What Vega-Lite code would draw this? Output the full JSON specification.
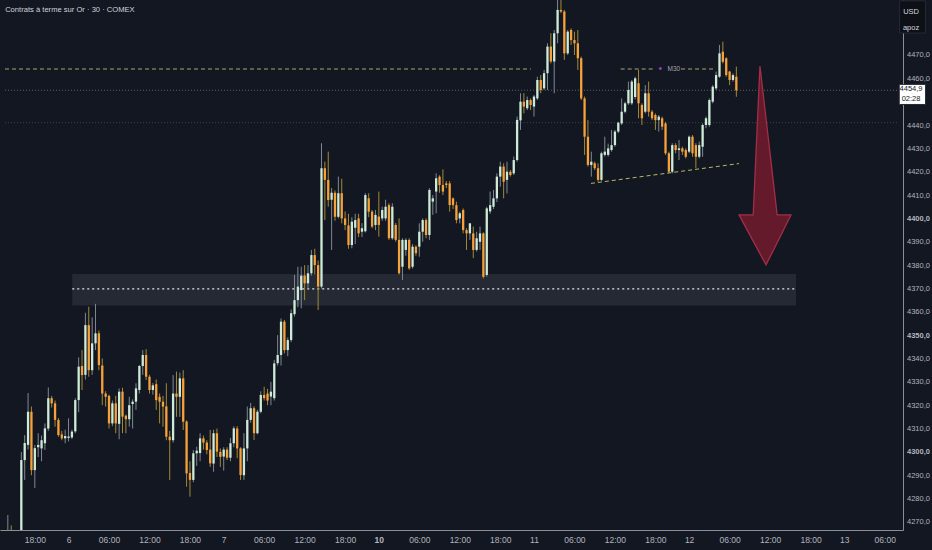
{
  "$schema": "https://vega.github.io/schema/vega-lite/v6.json",
  "width": 932,
  "height": 550,
  "autosize": {"type": "fit", "contains": "padding"},
  "padding": 0,
  "background": "#131722",
  "config": {
    "view": {"stroke": null},
    "font": "Liberation Sans"
  },
  "datasets": {
    "candles": [
      {"i":-18,"o":4262,"h":4273,"l":4258,"c":4264},
      {"i":-17,"o":4264,"h":4268.5,"l":4259,"c":4261},
      {"i":-16,"o":4261,"h":4265,"l":4255,"c":4258},
      {"i":-15,"o":4258,"h":4264,"l":4254,"c":4262},
      {"i":-14,"o":4262,"h":4300,"l":4258,"c":4296.5},
      {"i":-13,"o":4296.5,"h":4307.2,"l":4288,"c":4303.8},
      {"i":-12,"o":4303,"h":4325.2,"l":4301,"c":4317.2},
      {"i":-11,"o":4317.2,"h":4319.4,"l":4290,"c":4292.2},
      {"i":-10,"o":4292.2,"h":4303,"l":4284.5,"c":4301.6},
      {"i":-9,"o":4302,"h":4308,"l":4297.8,"c":4303},
      {"i":-8,"o":4301.5,"h":4307,"l":4296,"c":4305},
      {"i":-7,"o":4303.7,"h":4312.2,"l":4300.8,"c":4310.1},
      {"i":-6,"o":4310,"h":4327.6,"l":4309,"c":4323},
      {"i":-5,"o":4323,"h":4324,"l":4319,"c":4320.8},
      {"i":-4,"o":4320.8,"h":4322,"l":4310.8,"c":4313.7},
      {"i":-3,"o":4313.7,"h":4314.5,"l":4306.5,"c":4307.2},
      {"i":-2,"o":4307.5,"h":4309,"l":4305,"c":4305.8},
      {"i":-1,"o":4305.8,"h":4309.5,"l":4303.7,"c":4306.8},
      {"i":0,"o":4306,"h":4314.4,"l":4304.5,"c":4306.6},
      {"i":1,"o":4306.2,"h":4309.5,"l":4305.5,"c":4308.7},
      {"i":2,"o":4308.8,"h":4323,"l":4308,"c":4322.2},
      {"i":3,"o":4322.2,"h":4340.5,"l":4317,"c":4336.5},
      {"i":4,"o":4336.8,"h":4343.6,"l":4326.5,"c":4332.9},
      {"i":5,"o":4333,"h":4359.6,"l":4331,"c":4354.3},
      {"i":6,"o":4354.3,"h":4362.2,"l":4332.2,"c":4335},
      {"i":7,"o":4335,"h":4357.6,"l":4333,"c":4346.5},
      {"i":8,"o":4346.5,"h":4363.4,"l":4343.6,"c":4350.8},
      {"i":9,"o":4350.8,"h":4352,"l":4335,"c":4337.2},
      {"i":10,"o":4337,"h":4340,"l":4320,"c":4325},
      {"i":11,"o":4325,"h":4326,"l":4319.4,"c":4323.6},
      {"i":12,"o":4324,"h":4324.5,"l":4310,"c":4312.2},
      {"i":13,"o":4312.2,"h":4322,"l":4311,"c":4320.8},
      {"i":14,"o":4320.8,"h":4324,"l":4308,"c":4312.2},
      {"i":15,"o":4312,"h":4327.2,"l":4305.4,"c":4325.8},
      {"i":16,"o":4325.8,"h":4327.5,"l":4308,"c":4315.1},
      {"i":17,"o":4315.5,"h":4316,"l":4308,"c":4314},
      {"i":18,"o":4314,"h":4323.6,"l":4310.8,"c":4320},
      {"i":19,"o":4320.5,"h":4322.5,"l":4310,"c":4321.5},
      {"i":20,"o":4321.5,"h":4329.4,"l":4318,"c":4327.2},
      {"i":21,"o":4326.5,"h":4337.2,"l":4325,"c":4336.8},
      {"i":22,"o":4336.8,"h":4343.6,"l":4333,"c":4341.5},
      {"i":23,"o":4341.5,"h":4344,"l":4330.8,"c":4332.2},
      {"i":24,"o":4332.2,"h":4333,"l":4325,"c":4326.5},
      {"i":25,"o":4326.5,"h":4329.5,"l":4324.5,"c":4328.5},
      {"i":26,"o":4329,"h":4331,"l":4318,"c":4322.2},
      {"i":27,"o":4323.6,"h":4325,"l":4312.2,"c":4321.5},
      {"i":28,"o":4321.5,"h":4324,"l":4310.8,"c":4319.4},
      {"i":29,"o":4319.5,"h":4329.4,"l":4305,"c":4306.5},
      {"i":30,"o":4306.5,"h":4309,"l":4288,"c":4305},
      {"i":31,"o":4305,"h":4332.9,"l":4304,"c":4325},
      {"i":32,"o":4325,"h":4334.4,"l":4315,"c":4323.6},
      {"i":33,"o":4323.6,"h":4334,"l":4315,"c":4331.5},
      {"i":34,"o":4331.5,"h":4335,"l":4309.4,"c":4312.9},
      {"i":35,"o":4313,"h":4313.5,"l":4285.1,"c":4290.8},
      {"i":36,"o":4291,"h":4296,"l":4280.8,"c":4288},
      {"i":37,"o":4288,"h":4300.8,"l":4287,"c":4299.4},
      {"i":38,"o":4299.4,"h":4302.2,"l":4294,"c":4300.5},
      {"i":39,"o":4299.5,"h":4308,"l":4296,"c":4305.8},
      {"i":40,"o":4305.8,"h":4307,"l":4301,"c":4304},
      {"i":41,"o":4304,"h":4305,"l":4299,"c":4300.8},
      {"i":42,"o":4301,"h":4309.4,"l":4293.6,"c":4295.1},
      {"i":43,"o":4295,"h":4309.5,"l":4291.5,"c":4308},
      {"i":44,"o":4308,"h":4310,"l":4297.8,"c":4300.1},
      {"i":45,"o":4300,"h":4301.5,"l":4293.6,"c":4297.9},
      {"i":46,"o":4298,"h":4302,"l":4292,"c":4301},
      {"i":47,"o":4301,"h":4302,"l":4296.5,"c":4297.5},
      {"i":48,"o":4297.5,"h":4306,"l":4296,"c":4303.7},
      {"i":49,"o":4303.7,"h":4311,"l":4302,"c":4310.1},
      {"i":50,"o":4310,"h":4311,"l":4297.3,"c":4301.5},
      {"i":51,"o":4301.5,"h":4302,"l":4288,"c":4290.1},
      {"i":52,"o":4290,"h":4308,"l":4288,"c":4301.5},
      {"i":53,"o":4301.5,"h":4319.4,"l":4296,"c":4313.7},
      {"i":54,"o":4313.7,"h":4321,"l":4312.5,"c":4318.7},
      {"i":55,"o":4318.7,"h":4319.5,"l":4305.1,"c":4308},
      {"i":56,"o":4308,"h":4318,"l":4307.5,"c":4317.2},
      {"i":57,"o":4317.2,"h":4326,"l":4316.5,"c":4324.4},
      {"i":58,"o":4324.4,"h":4327.9,"l":4322,"c":4323},
      {"i":59,"o":4325,"h":4327,"l":4320,"c":4322},
      {"i":60,"o":4323.7,"h":4330,"l":4320,"c":4325.8},
      {"i":61,"o":4323,"h":4339.4,"l":4322,"c":4337.9},
      {"i":62,"o":4338,"h":4350,"l":4337,"c":4341.5},
      {"i":63,"o":4341.5,"h":4357.2,"l":4337,"c":4355.8},
      {"i":64,"o":4355.8,"h":4356.5,"l":4342.2,"c":4343.6},
      {"i":65,"o":4343.6,"h":4349,"l":4341,"c":4347.9},
      {"i":66,"o":4347.9,"h":4361,"l":4347,"c":4359.4},
      {"i":67,"o":4359,"h":4375.8,"l":4358,"c":4365},
      {"i":68,"o":4365,"h":4379.3,"l":4362,"c":4370.8},
      {"i":69,"o":4369.3,"h":4379.3,"l":4361.5,"c":4375.5},
      {"i":70,"o":4375.5,"h":4380,"l":4365,"c":4372.2},
      {"i":71,"o":4372.2,"h":4380,"l":4370,"c":4376.5},
      {"i":72,"o":4376.5,"h":4386.5,"l":4375.5,"c":4384.3},
      {"i":73,"o":4384.3,"h":4387,"l":4376,"c":4380},
      {"i":74,"o":4380,"h":4382,"l":4360.8,"c":4370.8},
      {"i":75,"o":4370.8,"h":4432.2,"l":4370,"c":4421.5},
      {"i":76,"o":4421.5,"h":4424.3,"l":4399.3,"c":4416.5},
      {"i":77,"o":4416.5,"h":4428.6,"l":4405,"c":4407.9},
      {"i":78,"o":4408,"h":4413,"l":4386.5,"c":4411},
      {"i":79,"o":4411,"h":4412,"l":4399,"c":4400.7},
      {"i":80,"o":4400.7,"h":4417.9,"l":4400,"c":4410.8},
      {"i":81,"o":4410.8,"h":4417,"l":4397.9,"c":4400},
      {"i":82,"o":4400,"h":4403,"l":4395,"c":4397.2},
      {"i":83,"o":4397,"h":4402,"l":4387,"c":4388.6},
      {"i":84,"o":4388.6,"h":4400.5,"l":4387.2,"c":4398.6},
      {"i":85,"o":4396,"h":4402,"l":4389,"c":4399.3},
      {"i":86,"o":4400,"h":4402,"l":4392,"c":4393.6},
      {"i":87,"o":4394.3,"h":4398,"l":4392,"c":4395.8},
      {"i":88,"o":4394.5,"h":4410.8,"l":4394,"c":4410},
      {"i":89,"o":4408.6,"h":4410.8,"l":4400.5,"c":4402.9},
      {"i":90,"o":4402.9,"h":4403.6,"l":4395.8,"c":4396.5},
      {"i":91,"o":4397.2,"h":4403.6,"l":4395,"c":4401.5},
      {"i":92,"o":4400.8,"h":4411.5,"l":4392.2,"c":4397.2},
      {"i":93,"o":4400,"h":4405,"l":4399,"c":4403.6},
      {"i":94,"o":4400,"h":4408,"l":4399,"c":4405},
      {"i":95,"o":4405.7,"h":4406.5,"l":4390.8,"c":4391.5},
      {"i":96,"o":4391.5,"h":4406.5,"l":4390.8,"c":4405},
      {"i":97,"o":4397.2,"h":4398,"l":4390,"c":4390.8},
      {"i":98,"o":4390.8,"h":4400,"l":4376,"c":4376.5},
      {"i":99,"o":4379.3,"h":4391.5,"l":4373.6,"c":4390.8},
      {"i":100,"o":4386.5,"h":4391.5,"l":4384,"c":4390.8},
      {"i":101,"o":4390.8,"h":4391.5,"l":4378,"c":4378.6},
      {"i":102,"o":4379.3,"h":4389,"l":4378.5,"c":4387.9},
      {"i":103,"o":4387.9,"h":4388.5,"l":4384,"c":4385.1},
      {"i":104,"o":4387.9,"h":4397.9,"l":4383.6,"c":4394.3},
      {"i":105,"o":4394.3,"h":4400,"l":4390,"c":4399.3},
      {"i":106,"o":4399.3,"h":4400,"l":4391.5,"c":4392.9},
      {"i":107,"o":4392.9,"h":4412.9,"l":4390.8,"c":4412.2},
      {"i":108,"o":4407.2,"h":4410,"l":4401.5,"c":4408.6},
      {"i":109,"o":4411.5,"h":4419.3,"l":4402.2,"c":4417.2},
      {"i":110,"o":4417.9,"h":4418.5,"l":4411,"c":4414.3},
      {"i":111,"o":4414.3,"h":4421,"l":4410,"c":4411.5},
      {"i":112,"o":4415,"h":4416,"l":4413,"c":4414.3},
      {"i":113,"o":4415,"h":4416,"l":4402.9,"c":4405.7},
      {"i":114,"o":4408.6,"h":4409,"l":4404,"c":4405.7},
      {"i":115,"o":4405.7,"h":4407.2,"l":4397.9,"c":4399.3},
      {"i":116,"o":4400,"h":4402.9,"l":4397.9,"c":4402.2},
      {"i":117,"o":4403.6,"h":4404.3,"l":4393.6,"c":4395},
      {"i":118,"o":4395,"h":4395.8,"l":4386.5,"c":4393.6},
      {"i":119,"o":4393.6,"h":4397.9,"l":4390.8,"c":4397.9},
      {"i":120,"o":4393.6,"h":4396.5,"l":4383,"c":4386.5},
      {"i":121,"o":4386.5,"h":4394.3,"l":4385.8,"c":4391.5},
      {"i":122,"o":4390,"h":4396.5,"l":4386.5,"c":4393.6},
      {"i":123,"o":4393.6,"h":4394,"l":4374.3,"c":4375},
      {"i":124,"o":4375.8,"h":4405,"l":4375,"c":4404.3},
      {"i":125,"o":4403,"h":4411.5,"l":4402,"c":4405.7},
      {"i":126,"o":4405,"h":4412.2,"l":4404,"c":4408.6},
      {"i":127,"o":4408.6,"h":4419.3,"l":4407,"c":4417.9},
      {"i":128,"o":4417.9,"h":4424.3,"l":4413.6,"c":4422.2},
      {"i":129,"o":4422.2,"h":4423.6,"l":4408.6,"c":4415.7},
      {"i":130,"o":4416.5,"h":4424.3,"l":4410.7,"c":4420},
      {"i":131,"o":4420,"h":4420.7,"l":4417.9,"c":4418.6},
      {"i":132,"o":4419.3,"h":4426.5,"l":4418.6,"c":4425},
      {"i":133,"o":4425,"h":4443.6,"l":4424.3,"c":4442.2},
      {"i":134,"o":4442,"h":4453.6,"l":4437.9,"c":4450},
      {"i":135,"o":4450,"h":4453.6,"l":4445,"c":4447.9},
      {"i":136,"o":4447.2,"h":4452.2,"l":4446.4,"c":4450.7},
      {"i":137,"o":4450.7,"h":4451.4,"l":4446.4,"c":4448.6},
      {"i":138,"o":4447.9,"h":4452.9,"l":4443.6,"c":4452.2},
      {"i":139,"o":4451.4,"h":4460.7,"l":4450.7,"c":4459.3},
      {"i":140,"o":4459.3,"h":4461.4,"l":4453.6,"c":4455},
      {"i":141,"o":4455.7,"h":4463.6,"l":4455,"c":4462.2},
      {"i":142,"o":4462.2,"h":4475,"l":4455,"c":4473.6},
      {"i":143,"o":4473.6,"h":4479.3,"l":4466.4,"c":4467.2},
      {"i":144,"o":4467.2,"h":4480.7,"l":4453.6,"c":4479.3},
      {"i":145,"o":4479.3,"h":4495,"l":4475,"c":4489.3},
      {"i":146,"o":4489.3,"h":4495,"l":4487.9,"c":4488.6},
      {"i":147,"o":4488.6,"h":4489.3,"l":4467.9,"c":4470.7},
      {"i":148,"o":4470.7,"h":4480.7,"l":4470,"c":4480},
      {"i":149,"o":4480.7,"h":4481.4,"l":4474.3,"c":4476.4},
      {"i":150,"o":4476.4,"h":4480,"l":4470,"c":4475},
      {"i":151,"o":4475,"h":4480.7,"l":4463.6,"c":4468.6},
      {"i":152,"o":4468.6,"h":4469.3,"l":4450.7,"c":4451.4},
      {"i":153,"o":4451.4,"h":4452.2,"l":4427.2,"c":4435},
      {"i":154,"o":4435,"h":4442.2,"l":4422.2,"c":4422.9},
      {"i":155,"o":4422.9,"h":4428.6,"l":4417.9,"c":4424.3},
      {"i":156,"o":4423.6,"h":4424.3,"l":4420.7,"c":4421.5},
      {"i":157,"o":4421.5,"h":4423.6,"l":4415.7,"c":4416.5},
      {"i":158,"o":4416.5,"h":4428.6,"l":4416,"c":4427.9},
      {"i":159,"o":4427.2,"h":4435,"l":4426.5,"c":4428.6},
      {"i":160,"o":4427.2,"h":4432,"l":4426.5,"c":4430},
      {"i":161,"o":4429.3,"h":4437.9,"l":4428.6,"c":4431.4},
      {"i":162,"o":4431.4,"h":4437.9,"l":4430.7,"c":4437.2},
      {"i":163,"o":4437.2,"h":4441.4,"l":4436.5,"c":4441},
      {"i":164,"o":4440.7,"h":4451.4,"l":4440,"c":4445.7},
      {"i":165,"o":4445.7,"h":4450,"l":4445,"c":4449.3},
      {"i":166,"o":4449.3,"h":4458.6,"l":4448.6,"c":4455},
      {"i":167,"o":4449.3,"h":4459.3,"l":4448.6,"c":4458.6},
      {"i":168,"o":4452,"h":4460.7,"l":4451,"c":4460},
      {"i":169,"o":4457.9,"h":4463.6,"l":4442.9,"c":4449.3},
      {"i":170,"o":4448.6,"h":4449.3,"l":4440,"c":4442.9},
      {"i":171,"o":4445.7,"h":4457.1,"l":4445,"c":4453.6},
      {"i":172,"o":4453.6,"h":4458.6,"l":4443.6,"c":4445.7},
      {"i":173,"o":4445.7,"h":4446.4,"l":4442.1,"c":4442.9},
      {"i":174,"o":4444.3,"h":4445,"l":4437.9,"c":4442.1},
      {"i":175,"o":4442.1,"h":4444.3,"l":4437.2,"c":4443.6},
      {"i":176,"o":4442.9,"h":4443.6,"l":4437.9,"c":4439.3},
      {"i":177,"o":4440.7,"h":4441.4,"l":4427.2,"c":4427.9},
      {"i":178,"o":4427.9,"h":4428.6,"l":4419.3,"c":4420},
      {"i":179,"o":4420,"h":4432.2,"l":4419.3,"c":4431.4},
      {"i":180,"o":4431.4,"h":4432.2,"l":4427.9,"c":4429.3},
      {"i":181,"o":4429.3,"h":4433.6,"l":4425,"c":4430},
      {"i":182,"o":4430,"h":4430.7,"l":4427.2,"c":4428.6},
      {"i":183,"o":4429.3,"h":4430,"l":4425.7,"c":4426.4},
      {"i":184,"o":4428.6,"h":4435.5,"l":4427.9,"c":4435},
      {"i":185,"o":4435,"h":4435.7,"l":4426.4,"c":4427.9},
      {"i":186,"o":4431.4,"h":4432.2,"l":4421.5,"c":4426.4},
      {"i":187,"o":4426.4,"h":4432.9,"l":4425.7,"c":4431.4},
      {"i":188,"o":4430.7,"h":4440.7,"l":4426.4,"c":4440},
      {"i":189,"o":4440,"h":4443.6,"l":4438.6,"c":4442.9},
      {"i":190,"o":4440,"h":4451.4,"l":4439.3,"c":4450.7},
      {"i":191,"o":4450,"h":4457.1,"l":4449.3,"c":4456.4},
      {"i":192,"o":4455.7,"h":4462.9,"l":4455,"c":4461.4},
      {"i":193,"o":4460.7,"h":4474.3,"l":4460.2,"c":4470.7},
      {"i":194,"o":4471.4,"h":4475.7,"l":4466.4,"c":4467.1},
      {"i":195,"o":4468.6,"h":4469,"l":4460.7,"c":4461.4},
      {"i":196,"o":4462.9,"h":4463.2,"l":4457.1,"c":4459.3},
      {"i":197,"o":4459.3,"h":4462.1,"l":4458.6,"c":4461.4},
      {"i":198,"o":4460.7,"h":4465,"l":4452.1,"c":4454.9}
    ]
  },
  "layer": [
    {
      "data": {"values": [{"x1": 1.1, "x2": 215.7, "p1": 4376.2, "p2": 4362.7}]},
      "mark": {"type": "rect", "fill": "#2a2e39", "opacity": 0.8},
      "encoding": {
        "x": {"field": "x1", "type": "quantitative", "scale": {"domain": [-18.84, 245.93], "nice": false, "zero": false},
          "axis": {"orient": "bottom", "title": null, "grid": false, "ticks": false, "domain": true, "domainColor": "#8a8e99", "values": [-10,0,12,24,36,46,58,70,82,92,104,116,128,138,150,162,174,184,196,208,220,230,242], "labelExpr": "((datum.value % 46) + 46) % 46 == 0 ? ['6','7','10','11','12','13'][floor(datum.value / 46)] : ((datum.value % 46) + 46) % 46 == 12 ? '06:00' : ((datum.value % 46) + 46) % 46 == 24 ? '12:00' : '18:00'", "labelColor": "#b2b5be", "labelFontSize": 8.5, "labelFont": "Liberation Sans", "labelPadding": 5, "labelFontWeight": {"condition": {"test": "datum.value == 92", "value": "bold"}, "value": "normal"}, "labelFlush": false, "labelOverlap": false, "minExtent": 20, "maxExtent": 20}},
        "x2": {"field": "x2"},
        "y": {"field": "p1", "type": "quantitative", "scale": {"domain": [4266.55, 4493.55], "nice": false, "zero": false},
          "axis": {"orient": "right", "title": null, "grid": false, "ticks": false, "domain": true, "domainColor": "#8a8e99", "values": [4270,4280,4290,4300,4310,4320,4330,4340,4350,4360,4370,4380,4390,4400,4410,4420,4430,4440,4460,4470], "labelExpr": "replace(format(datum.value, '.1f'), '.', ',')", "labelColor": "#b2b5be", "labelFontSize": 7.5, "labelFont": "Liberation Sans", "labelPadding": 3.5, "labelFontWeight": {"condition": {"test": "datum.value % 50 == 0", "value": "bold"}, "value": "normal"}, "labelFlush": false, "labelOverlap": false, "minExtent": 28.5, "maxExtent": 28.5}},
        "y2": {"field": "p2"}
      }
    },
    {
      "data": {"values": [{"x1": -18.84, "x2": 245.93, "p": 4454.9}]},
      "mark": {"type": "rule", "stroke": "#5d6170", "strokeWidth": 1, "strokeDash": [1, 2]},
      "encoding": {
        "x": {"field": "x1", "type": "quantitative", "scale": {"domain": [-18.84, 245.93], "nice": false, "zero": false},
          "axis": {"orient": "bottom", "title": null, "grid": false, "ticks": false, "domain": true, "domainColor": "#8a8e99", "values": [-10,0,12,24,36,46,58,70,82,92,104,116,128,138,150,162,174,184,196,208,220,230,242], "labelExpr": "((datum.value % 46) + 46) % 46 == 0 ? ['6','7','10','11','12','13'][floor(datum.value / 46)] : ((datum.value % 46) + 46) % 46 == 12 ? '06:00' : ((datum.value % 46) + 46) % 46 == 24 ? '12:00' : '18:00'", "labelColor": "#b2b5be", "labelFontSize": 8.5, "labelFont": "Liberation Sans", "labelPadding": 5, "labelFontWeight": {"condition": {"test": "datum.value == 92", "value": "bold"}, "value": "normal"}, "labelFlush": false, "labelOverlap": false, "minExtent": 20, "maxExtent": 20}},
        "x2": {"field": "x2"},
        "y": {"field": "p", "type": "quantitative", "scale": {"domain": [4266.55, 4493.55], "nice": false, "zero": false},
          "axis": {"orient": "right", "title": null, "grid": false, "ticks": false, "domain": true, "domainColor": "#8a8e99", "values": [4270,4280,4290,4300,4310,4320,4330,4340,4350,4360,4370,4380,4390,4400,4410,4420,4430,4440,4460,4470], "labelExpr": "replace(format(datum.value, '.1f'), '.', ',')", "labelColor": "#b2b5be", "labelFontSize": 7.5, "labelFont": "Liberation Sans", "labelPadding": 3.5, "labelFontWeight": {"condition": {"test": "datum.value % 50 == 0", "value": "bold"}, "value": "normal"}, "labelFlush": false, "labelOverlap": false, "minExtent": 28.5, "maxExtent": 28.5}}
      }
    },
    {
      "data": {"values": [{"x1": -18.84, "x2": 245.93, "p": 4441.0}]},
      "mark": {"type": "rule", "stroke": "#3b3f4b", "strokeWidth": 1, "strokeDash": [1, 2]},
      "encoding": {
        "x": {"field": "x1", "type": "quantitative", "scale": {"domain": [-18.84, 245.93], "nice": false, "zero": false},
          "axis": {"orient": "bottom", "title": null, "grid": false, "ticks": false, "domain": true, "domainColor": "#8a8e99", "values": [-10,0,12,24,36,46,58,70,82,92,104,116,128,138,150,162,174,184,196,208,220,230,242], "labelExpr": "((datum.value % 46) + 46) % 46 == 0 ? ['6','7','10','11','12','13'][floor(datum.value / 46)] : ((datum.value % 46) + 46) % 46 == 12 ? '06:00' : ((datum.value % 46) + 46) % 46 == 24 ? '12:00' : '18:00'", "labelColor": "#b2b5be", "labelFontSize": 8.5, "labelFont": "Liberation Sans", "labelPadding": 5, "labelFontWeight": {"condition": {"test": "datum.value == 92", "value": "bold"}, "value": "normal"}, "labelFlush": false, "labelOverlap": false, "minExtent": 20, "maxExtent": 20}},
        "x2": {"field": "x2"},
        "y": {"field": "p", "type": "quantitative", "scale": {"domain": [4266.55, 4493.55], "nice": false, "zero": false},
          "axis": {"orient": "right", "title": null, "grid": false, "ticks": false, "domain": true, "domainColor": "#8a8e99", "values": [4270,4280,4290,4300,4310,4320,4330,4340,4350,4360,4370,4380,4390,4400,4410,4420,4430,4440,4460,4470], "labelExpr": "replace(format(datum.value, '.1f'), '.', ',')", "labelColor": "#b2b5be", "labelFontSize": 7.5, "labelFont": "Liberation Sans", "labelPadding": 3.5, "labelFontWeight": {"condition": {"test": "datum.value % 50 == 0", "value": "bold"}, "value": "normal"}, "labelFlush": false, "labelOverlap": false, "minExtent": 28.5, "maxExtent": 28.5}}
      }
    },
    {
      "data": {"values": [{"x1": -18.84, "x2": 137.1, "p": 4464.0}, {"x1": 163.7, "x2": 173.6, "p": 4464.0}, {"x1": 181.6, "x2": 191.3, "p": 4464.0}]},
      "mark": {"type": "rule", "stroke": "#a6a66c", "strokeWidth": 1, "strokeDash": [4, 3]},
      "encoding": {
        "x": {"field": "x1", "type": "quantitative", "scale": {"domain": [-18.84, 245.93], "nice": false, "zero": false},
          "axis": {"orient": "bottom", "title": null, "grid": false, "ticks": false, "domain": true, "domainColor": "#8a8e99", "values": [-10,0,12,24,36,46,58,70,82,92,104,116,128,138,150,162,174,184,196,208,220,230,242], "labelExpr": "((datum.value % 46) + 46) % 46 == 0 ? ['6','7','10','11','12','13'][floor(datum.value / 46)] : ((datum.value % 46) + 46) % 46 == 12 ? '06:00' : ((datum.value % 46) + 46) % 46 == 24 ? '12:00' : '18:00'", "labelColor": "#b2b5be", "labelFontSize": 8.5, "labelFont": "Liberation Sans", "labelPadding": 5, "labelFontWeight": {"condition": {"test": "datum.value == 92", "value": "bold"}, "value": "normal"}, "labelFlush": false, "labelOverlap": false, "minExtent": 20, "maxExtent": 20}},
        "x2": {"field": "x2"},
        "y": {"field": "p", "type": "quantitative", "scale": {"domain": [4266.55, 4493.55], "nice": false, "zero": false},
          "axis": {"orient": "right", "title": null, "grid": false, "ticks": false, "domain": true, "domainColor": "#8a8e99", "values": [4270,4280,4290,4300,4310,4320,4330,4340,4350,4360,4370,4380,4390,4400,4410,4420,4430,4440,4460,4470], "labelExpr": "replace(format(datum.value, '.1f'), '.', ',')", "labelColor": "#b2b5be", "labelFontSize": 7.5, "labelFont": "Liberation Sans", "labelPadding": 3.5, "labelFontWeight": {"condition": {"test": "datum.value % 50 == 0", "value": "bold"}, "value": "normal"}, "labelFlush": false, "labelOverlap": false, "minExtent": 28.5, "maxExtent": 28.5}}
      }
    },
    {
      "data": {"values": [{"x1": 1.1, "x2": 215.7, "p": 4369.8}]},
      "mark": {"type": "rule", "stroke": "#e6e6e6", "strokeWidth": 1.3, "strokeDash": [2, 3]},
      "encoding": {
        "x": {"field": "x1", "type": "quantitative", "scale": {"domain": [-18.84, 245.93], "nice": false, "zero": false},
          "axis": {"orient": "bottom", "title": null, "grid": false, "ticks": false, "domain": true, "domainColor": "#8a8e99", "values": [-10,0,12,24,36,46,58,70,82,92,104,116,128,138,150,162,174,184,196,208,220,230,242], "labelExpr": "((datum.value % 46) + 46) % 46 == 0 ? ['6','7','10','11','12','13'][floor(datum.value / 46)] : ((datum.value % 46) + 46) % 46 == 12 ? '06:00' : ((datum.value % 46) + 46) % 46 == 24 ? '12:00' : '18:00'", "labelColor": "#b2b5be", "labelFontSize": 8.5, "labelFont": "Liberation Sans", "labelPadding": 5, "labelFontWeight": {"condition": {"test": "datum.value == 92", "value": "bold"}, "value": "normal"}, "labelFlush": false, "labelOverlap": false, "minExtent": 20, "maxExtent": 20}},
        "x2": {"field": "x2"},
        "y": {"field": "p", "type": "quantitative", "scale": {"domain": [4266.55, 4493.55], "nice": false, "zero": false},
          "axis": {"orient": "right", "title": null, "grid": false, "ticks": false, "domain": true, "domainColor": "#8a8e99", "values": [4270,4280,4290,4300,4310,4320,4330,4340,4350,4360,4370,4380,4390,4400,4410,4420,4430,4440,4460,4470], "labelExpr": "replace(format(datum.value, '.1f'), '.', ',')", "labelColor": "#b2b5be", "labelFontSize": 7.5, "labelFont": "Liberation Sans", "labelPadding": 3.5, "labelFontWeight": {"condition": {"test": "datum.value % 50 == 0", "value": "bold"}, "value": "normal"}, "labelFlush": false, "labelOverlap": false, "minExtent": 28.5, "maxExtent": 28.5}}
      }
    },
    {
      "data": {"name": "candles"},
      "mark": {"type": "rule", "strokeWidth": 1, "clip": true},
      "encoding": {
        "x": {"field": "i", "type": "quantitative", "scale": {"domain": [-18.84, 245.93], "nice": false, "zero": false},
          "axis": {"orient": "bottom", "title": null, "grid": false, "ticks": false, "domain": true, "domainColor": "#8a8e99", "values": [-10,0,12,24,36,46,58,70,82,92,104,116,128,138,150,162,174,184,196,208,220,230,242], "labelExpr": "((datum.value % 46) + 46) % 46 == 0 ? ['6','7','10','11','12','13'][floor(datum.value / 46)] : ((datum.value % 46) + 46) % 46 == 12 ? '06:00' : ((datum.value % 46) + 46) % 46 == 24 ? '12:00' : '18:00'", "labelColor": "#b2b5be", "labelFontSize": 8.5, "labelFont": "Liberation Sans", "labelPadding": 5, "labelFontWeight": {"condition": {"test": "datum.value == 92", "value": "bold"}, "value": "normal"}, "labelFlush": false, "labelOverlap": false, "minExtent": 20, "maxExtent": 20}},
        "y": {"field": "l", "type": "quantitative", "scale": {"domain": [4266.55, 4493.55], "nice": false, "zero": false},
          "axis": {"orient": "right", "title": null, "grid": false, "ticks": false, "domain": true, "domainColor": "#8a8e99", "values": [4270,4280,4290,4300,4310,4320,4330,4340,4350,4360,4370,4380,4390,4400,4410,4420,4430,4440,4460,4470], "labelExpr": "replace(format(datum.value, '.1f'), '.', ',')", "labelColor": "#b2b5be", "labelFontSize": 7.5, "labelFont": "Liberation Sans", "labelPadding": 3.5, "labelFontWeight": {"condition": {"test": "datum.value % 50 == 0", "value": "bold"}, "value": "normal"}, "labelFlush": false, "labelOverlap": false, "minExtent": 28.5, "maxExtent": 28.5}},
        "y2": {"field": "h"},
        "stroke": {"condition": {"test": "datum.c >= datum.o", "value": "#7f8894"}, "value": "#a38a35"}
      }
    },
    {
      "data": {"name": "candles"},
      "mark": {"type": "bar", "width": 2.3, "clip": true},
      "encoding": {
        "x": {"field": "i", "type": "quantitative", "scale": {"domain": [-18.84, 245.93], "nice": false, "zero": false},
          "axis": {"orient": "bottom", "title": null, "grid": false, "ticks": false, "domain": true, "domainColor": "#8a8e99", "values": [-10,0,12,24,36,46,58,70,82,92,104,116,128,138,150,162,174,184,196,208,220,230,242], "labelExpr": "((datum.value % 46) + 46) % 46 == 0 ? ['6','7','10','11','12','13'][floor(datum.value / 46)] : ((datum.value % 46) + 46) % 46 == 12 ? '06:00' : ((datum.value % 46) + 46) % 46 == 24 ? '12:00' : '18:00'", "labelColor": "#b2b5be", "labelFontSize": 8.5, "labelFont": "Liberation Sans", "labelPadding": 5, "labelFontWeight": {"condition": {"test": "datum.value == 92", "value": "bold"}, "value": "normal"}, "labelFlush": false, "labelOverlap": false, "minExtent": 20, "maxExtent": 20}},
        "y": {"field": "o", "type": "quantitative", "scale": {"domain": [4266.55, 4493.55], "nice": false, "zero": false},
          "axis": {"orient": "right", "title": null, "grid": false, "ticks": false, "domain": true, "domainColor": "#8a8e99", "values": [4270,4280,4290,4300,4310,4320,4330,4340,4350,4360,4370,4380,4390,4400,4410,4420,4430,4440,4460,4470], "labelExpr": "replace(format(datum.value, '.1f'), '.', ',')", "labelColor": "#b2b5be", "labelFontSize": 7.5, "labelFont": "Liberation Sans", "labelPadding": 3.5, "labelFontWeight": {"condition": {"test": "datum.value % 50 == 0", "value": "bold"}, "value": "normal"}, "labelFlush": false, "labelOverlap": false, "minExtent": 28.5, "maxExtent": 28.5}},
        "y2": {"field": "c"},
        "fill": {"condition": {"test": "datum.c >= datum.o", "value": "#cdebd6"}, "value": "#f6a13a"}
      }
    },
    {
      "data": {"values": [{"x1": 154.9, "x2": 198.8, "p1": 4415.0, "p2": 4423.5}]},
      "mark": {"type": "rule", "stroke": "#b9b866", "strokeWidth": 1, "strokeDash": [4, 3]},
      "encoding": {
        "x": {"field": "x1", "type": "quantitative", "scale": {"domain": [-18.84, 245.93], "nice": false, "zero": false},
          "axis": {"orient": "bottom", "title": null, "grid": false, "ticks": false, "domain": true, "domainColor": "#8a8e99", "values": [-10,0,12,24,36,46,58,70,82,92,104,116,128,138,150,162,174,184,196,208,220,230,242], "labelExpr": "((datum.value % 46) + 46) % 46 == 0 ? ['6','7','10','11','12','13'][floor(datum.value / 46)] : ((datum.value % 46) + 46) % 46 == 12 ? '06:00' : ((datum.value % 46) + 46) % 46 == 24 ? '12:00' : '18:00'", "labelColor": "#b2b5be", "labelFontSize": 8.5, "labelFont": "Liberation Sans", "labelPadding": 5, "labelFontWeight": {"condition": {"test": "datum.value == 92", "value": "bold"}, "value": "normal"}, "labelFlush": false, "labelOverlap": false, "minExtent": 20, "maxExtent": 20}},
        "x2": {"field": "x2"},
        "y": {"field": "p1", "type": "quantitative", "scale": {"domain": [4266.55, 4493.55], "nice": false, "zero": false},
          "axis": {"orient": "right", "title": null, "grid": false, "ticks": false, "domain": true, "domainColor": "#8a8e99", "values": [4270,4280,4290,4300,4310,4320,4330,4340,4350,4360,4370,4380,4390,4400,4410,4420,4430,4440,4460,4470], "labelExpr": "replace(format(datum.value, '.1f'), '.', ',')", "labelColor": "#b2b5be", "labelFontSize": 7.5, "labelFont": "Liberation Sans", "labelPadding": 3.5, "labelFontWeight": {"condition": {"test": "datum.value % 50 == 0", "value": "bold"}, "value": "normal"}, "labelFlush": false, "labelOverlap": false, "minExtent": 28.5, "maxExtent": 28.5}},
        "y2": {"field": "p2"}
      }
    },
    {
      "data": {"values": [
        {"x": 198.8, "lo": 4401.5, "hi": 4401.5},
        {"x": 203.0, "lo": 4390.3, "hi": 4401.5},
        {"x": 205.0, "lo": 4384.9, "hi": 4465.3},
        {"x": 206.8, "lo": 4380.1, "hi": 4442.8},
        {"x": 210.1, "lo": 4389.6, "hi": 4401.5},
        {"x": 214.2, "lo": 4401.5, "hi": 4401.5}
      ]},
      "mark": {"type": "area", "orient": "vertical", "fill": "#701b2c", "fillOpacity": 0.88, "stroke": "#a32e48", "strokeWidth": 1.3, "strokeJoin": "miter"},
      "encoding": {
        "x": {"field": "x", "type": "quantitative", "scale": {"domain": [-18.84, 245.93], "nice": false, "zero": false},
          "axis": {"orient": "bottom", "title": null, "grid": false, "ticks": false, "domain": true, "domainColor": "#8a8e99", "values": [-10,0,12,24,36,46,58,70,82,92,104,116,128,138,150,162,174,184,196,208,220,230,242], "labelExpr": "((datum.value % 46) + 46) % 46 == 0 ? ['6','7','10','11','12','13'][floor(datum.value / 46)] : ((datum.value % 46) + 46) % 46 == 12 ? '06:00' : ((datum.value % 46) + 46) % 46 == 24 ? '12:00' : '18:00'", "labelColor": "#b2b5be", "labelFontSize": 8.5, "labelFont": "Liberation Sans", "labelPadding": 5, "labelFontWeight": {"condition": {"test": "datum.value == 92", "value": "bold"}, "value": "normal"}, "labelFlush": false, "labelOverlap": false, "minExtent": 20, "maxExtent": 20}},
        "y": {"field": "lo", "type": "quantitative", "stack": null, "scale": {"domain": [4266.55, 4493.55], "nice": false, "zero": false},
          "axis": {"orient": "right", "title": null, "grid": false, "ticks": false, "domain": true, "domainColor": "#8a8e99", "values": [4270,4280,4290,4300,4310,4320,4330,4340,4350,4360,4370,4380,4390,4400,4410,4420,4430,4440,4460,4470], "labelExpr": "replace(format(datum.value, '.1f'), '.', ',')", "labelColor": "#b2b5be", "labelFontSize": 7.5, "labelFont": "Liberation Sans", "labelPadding": 3.5, "labelFontWeight": {"condition": {"test": "datum.value % 50 == 0", "value": "bold"}, "value": "normal"}, "labelFlush": false, "labelOverlap": false, "minExtent": 28.5, "maxExtent": 28.5}},
        "y2": {"field": "hi"}
      }
    },
    {
      "data": {"values": [
        {"i": -18.8, "p": 4489.3, "t": "Contrats à terme sur Or · 30 · COMEX", "k": "title"},
        {"i": 174.9, "p": 4464.2, "t": "•", "k": "glyph"},
        {"i": 177.6, "p": 4464.0, "t": "M30", "k": "m30"}
      ]},
      "mark": {"type": "text", "align": "left", "baseline": "middle", "font": "Liberation Sans"},
      "encoding": {
        "x": {"field": "i", "type": "quantitative", "scale": {"domain": [-18.84, 245.93], "nice": false, "zero": false},
          "axis": {"orient": "bottom", "title": null, "grid": false, "ticks": false, "domain": true, "domainColor": "#8a8e99", "values": [-10,0,12,24,36,46,58,70,82,92,104,116,128,138,150,162,174,184,196,208,220,230,242], "labelExpr": "((datum.value % 46) + 46) % 46 == 0 ? ['6','7','10','11','12','13'][floor(datum.value / 46)] : ((datum.value % 46) + 46) % 46 == 12 ? '06:00' : ((datum.value % 46) + 46) % 46 == 24 ? '12:00' : '18:00'", "labelColor": "#b2b5be", "labelFontSize": 8.5, "labelFont": "Liberation Sans", "labelPadding": 5, "labelFontWeight": {"condition": {"test": "datum.value == 92", "value": "bold"}, "value": "normal"}, "labelFlush": false, "labelOverlap": false, "minExtent": 20, "maxExtent": 20}},
        "y": {"field": "p", "type": "quantitative", "scale": {"domain": [4266.55, 4493.55], "nice": false, "zero": false},
          "axis": {"orient": "right", "title": null, "grid": false, "ticks": false, "domain": true, "domainColor": "#8a8e99", "values": [4270,4280,4290,4300,4310,4320,4330,4340,4350,4360,4370,4380,4390,4400,4410,4420,4430,4440,4460,4470], "labelExpr": "replace(format(datum.value, '.1f'), '.', ',')", "labelColor": "#b2b5be", "labelFontSize": 7.5, "labelFont": "Liberation Sans", "labelPadding": 3.5, "labelFontWeight": {"condition": {"test": "datum.value % 50 == 0", "value": "bold"}, "value": "normal"}, "labelFlush": false, "labelOverlap": false, "minExtent": 28.5, "maxExtent": 28.5}},
        "text": {"field": "t"},
        "color": {"condition": [{"test": "datum.k == 'glyph'", "value": "#9c3fd0"}, {"test": "datum.k == 'm30'", "value": "#a3a6af"}], "value": "#d1d4dc"},
        "size": {"condition": [{"test": "datum.k == 'glyph'", "value": 10}, {"test": "datum.k == 'm30'", "value": 6.5}], "value": 7.6},
        "fontWeight": {"condition": {"test": "datum.k == 'm30'", "value": "bold"}, "value": "normal"}
      }
    },
    {
      "data": {"values": [
        {"x1": 246.3, "x2": 254.1, "p1": 4457.4, "p2": 4448.8, "k": "price"},
        {"x1": 246.4, "x2": 254.1, "p1": 4493.2, "p2": 4479.4, "k": "usd"}
      ]},
      "mark": {"type": "rect", "stroke": "#262a35", "strokeWidth": 1},
      "encoding": {
        "x": {"field": "x1", "type": "quantitative", "scale": {"domain": [-18.84, 245.93], "nice": false, "zero": false},
          "axis": {"orient": "bottom", "title": null, "grid": false, "ticks": false, "domain": true, "domainColor": "#8a8e99", "values": [-10,0,12,24,36,46,58,70,82,92,104,116,128,138,150,162,174,184,196,208,220,230,242], "labelExpr": "((datum.value % 46) + 46) % 46 == 0 ? ['6','7','10','11','12','13'][floor(datum.value / 46)] : ((datum.value % 46) + 46) % 46 == 12 ? '06:00' : ((datum.value % 46) + 46) % 46 == 24 ? '12:00' : '18:00'", "labelColor": "#b2b5be", "labelFontSize": 8.5, "labelFont": "Liberation Sans", "labelPadding": 5, "labelFontWeight": {"condition": {"test": "datum.value == 92", "value": "bold"}, "value": "normal"}, "labelFlush": false, "labelOverlap": false, "minExtent": 20, "maxExtent": 20}},
        "x2": {"field": "x2"},
        "y": {"field": "p1", "type": "quantitative", "scale": {"domain": [4266.55, 4493.55], "nice": false, "zero": false},
          "axis": {"orient": "right", "title": null, "grid": false, "ticks": false, "domain": true, "domainColor": "#8a8e99", "values": [4270,4280,4290,4300,4310,4320,4330,4340,4350,4360,4370,4380,4390,4400,4410,4420,4430,4440,4460,4470], "labelExpr": "replace(format(datum.value, '.1f'), '.', ',')", "labelColor": "#b2b5be", "labelFontSize": 7.5, "labelFont": "Liberation Sans", "labelPadding": 3.5, "labelFontWeight": {"condition": {"test": "datum.value % 50 == 0", "value": "bold"}, "value": "normal"}, "labelFlush": false, "labelOverlap": false, "minExtent": 28.5, "maxExtent": 28.5}},
        "y2": {"field": "p2"},
        "fill": {"condition": {"test": "datum.k == 'price'", "value": "#ffffff"}, "value": "#0d1017"}
      }
    },
    {
      "data": {"values": [
        {"i": 249.8, "p": 4455.3, "t": "4454,9", "k": "a"},
        {"i": 249.8, "p": 4451.0, "t": "02:28", "k": "a"},
        {"i": 249.8, "p": 4488.6, "t": "USD", "k": "b"},
        {"i": 249.8, "p": 4481.5, "t": "apoz", "k": "b"}
      ]},
      "mark": {"type": "text", "align": "center", "baseline": "middle", "fontSize": 7.5, "font": "Liberation Sans"},
      "encoding": {
        "x": {"field": "i", "type": "quantitative", "scale": {"domain": [-18.84, 245.93], "nice": false, "zero": false},
          "axis": {"orient": "bottom", "title": null, "grid": false, "ticks": false, "domain": true, "domainColor": "#8a8e99", "values": [-10,0,12,24,36,46,58,70,82,92,104,116,128,138,150,162,174,184,196,208,220,230,242], "labelExpr": "((datum.value % 46) + 46) % 46 == 0 ? ['6','7','10','11','12','13'][floor(datum.value / 46)] : ((datum.value % 46) + 46) % 46 == 12 ? '06:00' : ((datum.value % 46) + 46) % 46 == 24 ? '12:00' : '18:00'", "labelColor": "#b2b5be", "labelFontSize": 8.5, "labelFont": "Liberation Sans", "labelPadding": 5, "labelFontWeight": {"condition": {"test": "datum.value == 92", "value": "bold"}, "value": "normal"}, "labelFlush": false, "labelOverlap": false, "minExtent": 20, "maxExtent": 20}},
        "y": {"field": "p", "type": "quantitative", "scale": {"domain": [4266.55, 4493.55], "nice": false, "zero": false},
          "axis": {"orient": "right", "title": null, "grid": false, "ticks": false, "domain": true, "domainColor": "#8a8e99", "values": [4270,4280,4290,4300,4310,4320,4330,4340,4350,4360,4370,4380,4390,4400,4410,4420,4430,4440,4460,4470], "labelExpr": "replace(format(datum.value, '.1f'), '.', ',')", "labelColor": "#b2b5be", "labelFontSize": 7.5, "labelFont": "Liberation Sans", "labelPadding": 3.5, "labelFontWeight": {"condition": {"test": "datum.value % 50 == 0", "value": "bold"}, "value": "normal"}, "labelFlush": false, "labelOverlap": false, "minExtent": 28.5, "maxExtent": 28.5}},
        "text": {"field": "t"},
        "color": {"condition": {"test": "datum.k == 'a'", "value": "#131722"}, "value": "#d1d4dc"}
      }
    }
  ]
}
